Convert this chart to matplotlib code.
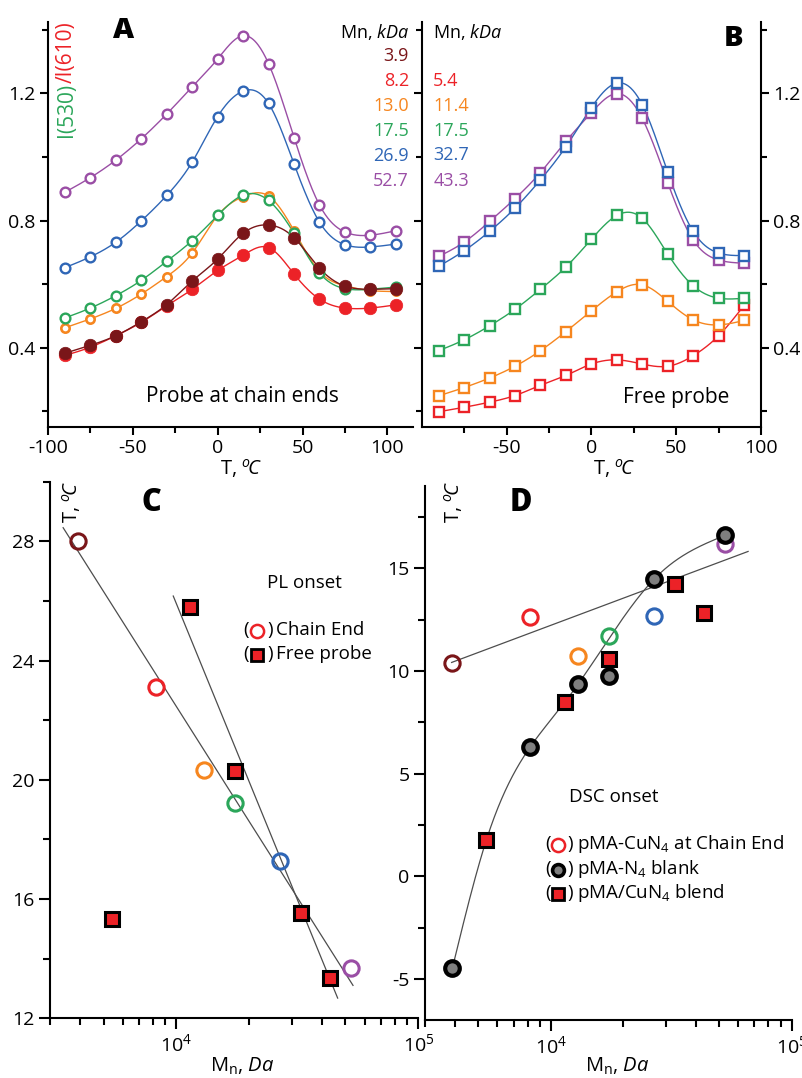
import numpy as np
import matplotlib
matplotlib.use("Agg")
import matplotlib.pyplot as plt
from matplotlib.ticker import FixedLocator, NullFormatter, LogLocator

plt.rcParams['font.family'] = ['Open Sans', 'DejaVu Sans']
plt.rcParams['mathtext.fontset'] = 'custom'
plt.rcParams['mathtext.rm'] = 'Open Sans'
plt.rcParams['mathtext.it'] = 'Open Sans:italic'
plt.rcParams['mathtext.bf'] = 'Open Sans:bold'
plt.rcParams['axes.unicode_minus'] = False

# ---------------- data ----------------
T_A = [-90, -75, -60, -45, -30, -15, 0, 15, 30, 45, 60, 75, 90, 105]
T_B = [-90, -75, -60, -45, -30, -15, 0, 15, 30, 45, 60, 75, 90]

A_labels = ['3.9', '8.2', '13.0', '17.5', '26.9', '52.7']
A_3_9 = [0.383, 0.408, 0.438, 0.482, 0.536, 0.610, 0.679, 0.760, 0.786, 0.746, 0.650, 0.594, 0.584, 0.586]
A_8_2 = [0.376, 0.402, 0.438, 0.480, 0.532, 0.584, 0.643, 0.691, 0.715, 0.632, 0.553, 0.525, 0.525, 0.535]
A_13_0 = [0.463, 0.491, 0.524, 0.569, 0.624, 0.698, 0.816, 0.875, 0.877, 0.768, 0.640, 0.595, 0.580, 0.577]
A_17_5 = [0.494, 0.525, 0.564, 0.612, 0.672, 0.737, 0.816, 0.880, 0.863, 0.760, 0.635, 0.586, 0.584, 0.591]
A_26_9 = [0.652, 0.686, 0.732, 0.799, 0.879, 0.984, 1.127, 1.207, 1.168, 0.978, 0.795, 0.724, 0.717, 0.726]
A_52_7 = [0.889, 0.935, 0.990, 1.057, 1.135, 1.220, 1.308, 1.381, 1.293, 1.061, 0.849, 0.764, 0.754, 0.768]

B_labels = ['5.4', '11.4', '17.5', '32.7', '43.3']
B_5_4 = [0.199, 0.213, 0.229, 0.250, 0.282, 0.313, 0.349, 0.362, 0.349, 0.342, 0.375, 0.438, 0.533]
B_11_4 = [0.249, 0.275, 0.305, 0.342, 0.391, 0.451, 0.516, 0.576, 0.598, 0.546, 0.488, 0.472, 0.486]
B_17_5 = [0.391, 0.425, 0.469, 0.521, 0.584, 0.654, 0.741, 0.816, 0.807, 0.695, 0.595, 0.556, 0.556]
B_32_7 = [0.656, 0.705, 0.766, 0.839, 0.928, 1.032, 1.155, 1.232, 1.164, 0.952, 0.766, 0.698, 0.690]
B_43_3 = [0.687, 0.732, 0.797, 0.869, 0.951, 1.049, 1.139, 1.199, 1.121, 0.919, 0.739, 0.676, 0.666]

chain_mn = [3900, 8200, 13000, 17500, 26900, 52700]
free_mn = [5400, 11400, 17500, 32700, 43300]
pl_chain = [28.0, 23.11, 20.34, 19.22, 17.29, 13.68]
pl_free = [15.34, 25.80, 20.30, 15.54, 13.35]
dsc_chain = [10.38, 12.62, 10.73, 11.71, 12.68, 16.18]
dsc_blank = [-4.46, 6.29, 9.37, 9.76, 14.48, 16.59]
dsc_blend = [1.78, 8.46, 10.57, 14.24, 12.84]

# linear fits in log10(Mn): (slope, log10 Mn0, T0, Mn_start, Mn_end)
pl_chain_fit = (-12.81, 3.532, 28.45, 3400, 53700)
pl_free_fit = (-19.84, 3.987, 26.16, 9700, 46400)
dsc_chain_fit = (4.39, 3.588, 10.41, 3870, 65900)
# points used by the guide curve of the DSC blank/blend data
guide_blank_idx = [0, 1, 2, 4, 5]
guide_blend_idx = [0, 1]

# ---------------- styles ----------------
C_DR = '#7a1619'
C_R = '#ec2227'
C_O = '#f6861f'
C_G = '#2ba65a'
C_B = '#2f66b6'
C_P = '#9a4ea5'
C_GR = '#7f7f7f'

W, H = 803, 1078
fig = plt.figure(figsize=(W / 100, H / 100), dpi=100)


def rect(x0, y0, x1, y1):
    return [x0 / W, 1 - y1 / H, (x1 - x0) / W, (y1 - y0) / H]


def ftxt(x, y, s, **kw):
    return fig.text(x / W, 1 - y / H, s, **kw)


def nspline(x, y, xs):
    x = np.asarray(x, float); y = np.asarray(y, float)
    n = len(x); h = np.diff(x)
    A = np.zeros((n, n)); r = np.zeros(n)
    A[0, 0] = 1; A[-1, -1] = 1
    for i in range(1, n - 1):
        A[i, i - 1] = h[i - 1]; A[i, i] = 2 * (h[i - 1] + h[i]); A[i, i + 1] = h[i]
        r[i] = 3 * ((y[i + 1] - y[i]) / h[i] - (y[i] - y[i - 1]) / h[i - 1])
    c = np.linalg.solve(A, r)
    b = (y[1:] - y[:-1]) / h - h * (2 * c[:-1] + c[1:]) / 3
    d = (c[1:] - c[:-1]) / (3 * h)
    idx = np.clip(np.searchsorted(x, xs) - 1, 0, n - 2)
    dx = xs - x[idx]
    return y[idx] + b[idx] * dx + c[idx] * dx ** 2 + d[idx] * dx ** 3


TICK_FS = 14
SPW = 1.5
TLAB = r'T, $^{o}\!\mathit{C}$'
MLAB = r'M$_{\mathrm{n}}$, $\it{Da}$'


def style_axes(ax):
    for s in ax.spines.values():
        s.set_linewidth(SPW)
    ax.tick_params(which='both', direction='out', width=SPW, labelsize=TICK_FS, pad=3)
    ax.tick_params(which='major', length=6)
    ax.tick_params(which='minor', length=4)


# ---------------- panel A ----------------
axA = fig.add_axes(rect(48, 21.7, 413.3, 426.7))
style_axes(axA)
axA.spines['top'].set_visible(False)
axA.spines['right'].set_visible(False)
axA.set_xlim(-100, 115.3)
axA.set_ylim(0.152, 1.425)
axA.xaxis.set_major_locator(FixedLocator([-100, -50, 0, 50, 100]))
axA.xaxis.set_minor_locator(FixedLocator([-75, -25, 25, 75]))
axA.yaxis.set_major_locator(FixedLocator([0.4, 0.8, 1.2]))
axA.yaxis.set_minor_locator(FixedLocator([0.2, 0.6, 1.0, 1.4]))

xs_A = np.linspace(T_A[0], T_A[-1], 400)
A_series = [
    (A_13_0, C_O, False, 6.0, 1.9),
    (A_17_5, C_G, False, 7.0, 1.7),
    (A_8_2, C_R, True, 9.0, 0.0),
    (A_3_9, C_DR, True, 9.0, 0.0),
    (A_26_9, C_B, False, 7.0, 1.7),
    (A_52_7, C_P, False, 7.0, 1.7),
]
for k, (vals, col, filled, ms, mew) in enumerate(A_series):
    axA.plot(xs_A, nspline(T_A, vals, xs_A), color=col, lw=1.0, zorder=2 + k)
    if filled:
        axA.plot(T_A, vals, 'o', color=col, ms=ms, mec=col, mew=0.5, zorder=10 + k)
    else:
        axA.plot(T_A, vals, 'o', mfc='white', mec=col, ms=ms, mew=mew, zorder=10 + k)

ftxt(242.5, 397, 'Probe at chain ends', fontsize=15, ha='center', va='center')
ftxt(123.3, 30, 'A', fontsize=21, fontweight='heavy', ha='center', va='center')
ftxt(409, 31.7, r'Mn, $\it{kDa}$', fontsize=13, ha='right', va='center')
for lab, col, yy in zip(A_labels, [C_DR, C_R, C_O, C_G, C_B, C_P], [56, 81, 106, 130.7, 155.7, 180.7]):
    ftxt(409, yy, lab, fontsize=13, color=col, ha='right', va='center')
ftxt(241, 468, TLAB, fontsize=14.5, ha='center', va='center')

# ---------------- panel B ----------------
axB = fig.add_axes(rect(421.7, 21.7, 761, 426.7))
style_axes(axB)
axB.spines['top'].set_visible(False)
axB.set_xlim(-100, 100)
axB.set_ylim(0.152, 1.425)
axB.xaxis.set_major_locator(FixedLocator([-50, 0, 50, 100]))
axB.xaxis.set_minor_locator(FixedLocator([-75, -25, 25, 75]))
axB.yaxis.set_major_locator(FixedLocator([0.4, 0.8, 1.2]))
axB.yaxis.set_minor_locator(FixedLocator([0.2, 0.6, 1.0, 1.4]))
axB.tick_params(axis='y', which='both', left=True, right=True, labelleft=False, labelright=True)

xs_B = np.linspace(T_B[0], T_B[-1], 400)
B_series = [
    (B_5_4, C_R), (B_11_4, C_O), (B_17_5, C_G), (B_43_3, C_P), (B_32_7, C_B),
]
for k, (vals, col) in enumerate(B_series):
    axB.plot(xs_B, nspline(T_B, vals, xs_B), color=col, lw=1.0, zorder=2 + k)
    axB.plot(T_B, vals, 's', mfc='white', mec=col, ms=7.2, mew=1.7, zorder=10 + k)

ftxt(676, 397, 'Free probe', fontsize=15, ha='center', va='center')
ftxt(733.3, 38.3, 'B', fontsize=21, fontweight='heavy', ha='center', va='center')
ftxt(433.3, 31.7, r'Mn, $\it{kDa}$', fontsize=13, ha='left', va='center')
for lab, col, yy in zip(B_labels, [C_R, C_O, C_G, C_B, C_P], [81, 106, 131, 155.5, 180.5]):
    ftxt(433.3, yy, lab, fontsize=13, color=col, ha='left', va='center')
ftxt(614, 468, TLAB, fontsize=14.5, ha='center', va='center')

# two-coloured y label of A
fig.canvas.draw()
rend = fig.canvas.get_renderer()
t1 = ftxt(66.7, 136.7, 'I(530)', fontsize=15, color=C_G, rotation=90, ha='center', va='bottom')
bb = t1.get_window_extent(rend)
fig.text(66.7 / W, bb.y1 / (fig.dpi * fig.get_figheight()), '/I(610)', fontsize=15, color=C_R,
         rotation=90, ha='center', va='bottom')

chain_cols = [C_DR, C_R, C_O, C_G, C_B, C_P]


def style_log(ax):
    ax.set_xscale('log')
    ax.set_xlim(3000, 1e5)
    ax.xaxis.set_major_locator(LogLocator(base=10, numticks=10))
    ax.xaxis.set_minor_locator(LogLocator(base=10, subs=np.arange(2, 10), numticks=20))
    ax.xaxis.set_minor_formatter(NullFormatter())
    ax.spines['top'].set_visible(False)
    ax.spines['right'].set_visible(False)
    ax.tick_params(which='major', length=8)
    ax.tick_params(which='minor', length=5)


def fit_line(ax, fit):
    slope, x0, y0, lo, hi = fit
    xx = np.logspace(np.log10(lo), np.log10(hi), 50)
    ax.plot(xx, y0 + slope * (np.log10(xx) - x0), color='#4d4d4d', lw=0.9, zorder=1)


# ---------------- panel C ----------------
axC = fig.add_axes(rect(50, 481.7, 418.3, 1018.3))
style_axes(axC)
style_log(axC)
axC.set_ylim(12, 30)
axC.yaxis.set_major_locator(FixedLocator([12, 16, 20, 24, 28]))
axC.yaxis.set_minor_locator(FixedLocator([14, 18, 22, 26, 30]))
fit_line(axC, pl_chain_fit)
fit_line(axC, pl_free_fit)
for m, t, c in zip(chain_mn, pl_chain, chain_cols):
    axC.plot([m], [t], 'o', mfc='none', mec=c, ms=11, mew=2.2, zorder=5)
axC.plot(free_mn, pl_free, 's', mfc=C_R, mec='black', ms=10.2, mew=2.2, zorder=6)

ftxt(151.7, 502.7, 'C', fontsize=22, fontweight='heavy', ha='center', va='center')
ftxt(71.7, 502, TLAB, fontsize=14.5, rotation=90, ha='center', va='center')
ftxt(304, 582.7, 'PL onset', fontsize=13.5, ha='center', va='center')
ftxt(276, 630, 'Chain End', fontsize=13.5, ha='left', va='center')
ftxt(276, 654.3, 'Free probe', fontsize=13.5, ha='left', va='center')
for yy in (630, 654.3):
    ftxt(243.3, yy, '(', fontsize=13.5, ha='left', va='center')
    ftxt(267, yy, ')', fontsize=13.5, ha='left', va='center')
fig.add_artist(plt.Line2D([257.5 / W], [1 - 630.5 / H], marker='o', mfc='none', mec=C_R, ms=9.5, mew=1.8))
fig.add_artist(plt.Line2D([257.5 / W], [1 - 655 / H], marker='s', mfc=C_R, mec='black', ms=8.5, mew=2.0))
ftxt(241.7, 1066, MLAB, fontsize=14.5, ha='center', va='center')

# ---------------- panel D ----------------
axD = fig.add_axes(rect(425, 486, 791.7, 1020))
style_axes(axD)
style_log(axD)
axD.set_ylim(-7, 19)
axD.yaxis.set_major_locator(FixedLocator([-5, 0, 5, 10, 15]))
axD.yaxis.set_minor_locator(FixedLocator([-2.5, 2.5, 7.5, 12.5, 17.5]))
fit_line(axD, dsc_chain_fit)
g_mn = [chain_mn[i] for i in guide_blank_idx] + [free_mn[i] for i in guide_blend_idx]
g_t = [dsc_blank[i] for i in guide_blank_idx] + [dsc_blend[i] for i in guide_blend_idx]
order = np.argsort(g_mn)
gx = np.log10(np.array(g_mn, float)[order])
gy = np.array(g_t)[order]
xx = np.linspace(gx[0], gx[-1], 300)
axD.plot(10 ** xx, nspline(gx, gy, xx), color='#4d4d4d', lw=0.9, zorder=1)
for m, t, c in zip(chain_mn, dsc_chain, chain_cols):
    axD.plot([m], [t], 'o', mfc='none', mec=c, ms=11, mew=2.2, zorder=4)
axD.plot(chain_mn, dsc_blank, 'o', mfc=C_GR, mec='black', ms=10.5, mew=3.0, zorder=5)
axD.plot(free_mn, dsc_blend, 's', mfc=C_R, mec='black', ms=9.6, mew=2.2, zorder=6)

ftxt(520.7, 502.7, 'D', fontsize=22, fontweight='heavy', ha='center', va='center')
ftxt(453.3, 501.7, TLAB, fontsize=14.5, rotation=90, ha='center', va='center')
ftxt(613.3, 796.7, 'DSC onset', fontsize=13.5, ha='center', va='center')
leg_y = [844, 869.3, 893.3]
leg_txt = [r'pMA-CuN$_4$ at Chain End', r'pMA-N$_4$ blank', r'pMA/CuN$_4$ blend']
for yy, s in zip(leg_y, leg_txt):
    ftxt(545, yy, '(', fontsize=13.5, ha='left', va='center')
    ftxt(567.5, yy, ')', fontsize=13.5, ha='left', va='center')
    ftxt(577, yy, s, fontsize=13.5, ha='left', va='center')
fig.add_artist(plt.Line2D([558.3 / W], [1 - 844.5 / H], marker='o', mfc='none', mec=C_R, ms=9.5, mew=1.8))
fig.add_artist(plt.Line2D([558.3 / W], [1 - 869.5 / H], marker='o', mfc=C_GR, mec='black', ms=8.5, mew=2.6))
fig.add_artist(plt.Line2D([558.3 / W], [1 - 894 / H], marker='s', mfc=C_R, mec='black', ms=8.0, mew=2.0))
ftxt(616.7, 1066, MLAB, fontsize=14.5, ha='center', va='center')

fig.savefig('out.png', dpi=100)
